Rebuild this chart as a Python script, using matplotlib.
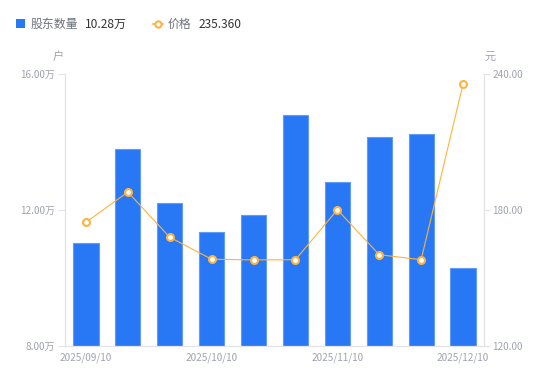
import matplotlib
matplotlib.use("Agg")
import matplotlib.pyplot as plt
from matplotlib.patches import Rectangle
from matplotlib.lines import Line2D

plt.rcParams['font.family'] = ['Noto Sans CJK SC', 'DejaVu Sans']

dates = ['2025/09/10', '2025/09/19', '2025/09/30', '2025/10/10', '2025/10/20',
         '2025/10/31', '2025/11/10', '2025/11/20', '2025/11/28', '2025/12/10']
holders = [11.02, 13.78, 12.19, 11.34, 11.85, 14.78, 12.81, 14.15, 14.22, 10.28]  # 万户
price = [174.5, 187.8, 167.9, 158.2, 157.9, 158.0, 180.0, 160.2, 158.0, 235.36]
left_ticks = [8, 12, 16]
right_ticks = [120, 180, 240]
legend_names = ['股东数量', '价格']
legend_values = ['10.28万', '235.360']
unit_left = '户'
unit_right = '元'

W, H = 550, 381
BAR = '#2878f5'
BAR_EDGE = '#5f9bf7'
LINE = '#ffb23e'
AX = '#e3e3e6'
TXT = '#a0a3af'

fig = plt.figure(figsize=(W / 100, H / 100), dpi=100)
ax = fig.add_axes([65 / W, 35 / H, 419 / W, 272.5 / H])
x = list(range(len(dates)))
ax.bar(x, holders, width=0.6, color=BAR, edgecolor=BAR_EDGE, linewidth=0.8, zorder=2)
ax.set_xlim(-0.5, len(dates) - 0.5)
ax.set_ylim(left_ticks[0], left_ticks[-1])
ax.set_yticks(left_ticks)
ax.set_yticklabels([f'{v:.2f}万' for v in left_ticks])
ax.set_xticks(x[::3])
ax.set_xticklabels(dates[::3])
ax.tick_params(axis='x', length=0, pad=5, labelsize=7.2, labelcolor=TXT)
ax.tick_params(axis='y', length=5, width=0.8, color=AX, pad=2, labelsize=7.2, labelcolor=TXT)
for s in ['top', 'right']:
    ax.spines[s].set_visible(False)
for s in ['left', 'bottom']:
    ax.spines[s].set_color(AX)
    ax.spines[s].set_linewidth(0.9)

ax2 = ax.twinx()
ax2.plot(x, price, color=LINE, lw=0.8, marker='o', ms=5, mfc='white', mec=LINE, mew=1.5, zorder=3)
ax2.set_ylim(right_ticks[0], right_ticks[-1])
ax2.set_yticks(right_ticks)
ax2.set_yticklabels([f'{v:.2f}' for v in right_ticks])
ax2.tick_params(axis='y', length=4, width=0.8, color=AX, pad=2, labelsize=7.2, labelcolor=TXT)
for s in ['top', 'left', 'bottom']:
    ax2.spines[s].set_visible(False)
ax2.spines['right'].set_color(AX)
ax2.spines['right'].set_linewidth(0.9)

fig.text(58 / W, 1 - 57 / H, unit_left, ha='center', va='center', fontsize=8, color=TXT)
fig.text(490 / W, 1 - 57 / H, unit_right, ha='center', va='center', fontsize=8, color=TXT)

# legend
fig.add_artist(Rectangle((16 / W, 1 - 28 / H), 9 / W, 9 / H, transform=fig.transFigure,
                         facecolor=BAR, edgecolor='none'))
fig.add_artist(Line2D([153 / W, 163 / W], [1 - 24 / H, 1 - 24 / H], transform=fig.transFigure,
                      color=LINE, lw=1.2))
fig.add_artist(Line2D([158 / W], [1 - 24 / H], transform=fig.transFigure, marker='o', ms=4.5,
                      mfc='white', mec=LINE, mew=1.5, color=LINE))
fig.text(31 / W, 1 - 24 / H, legend_names[0], ha='left', va='center', fontsize=8.6, color='#6e717c')
fig.text(85 / W, 1 - 24 / H, legend_values[0], ha='left', va='center', fontsize=8.6, color='#333333')
fig.text(168 / W, 1 - 24 / H, legend_names[1], ha='left', va='center', fontsize=8.6, color='#6e717c')
fig.text(199 / W, 1 - 24 / H, legend_values[1], ha='left', va='center', fontsize=8.6, color='#333333')

fig.savefig('out.png', dpi=100)
